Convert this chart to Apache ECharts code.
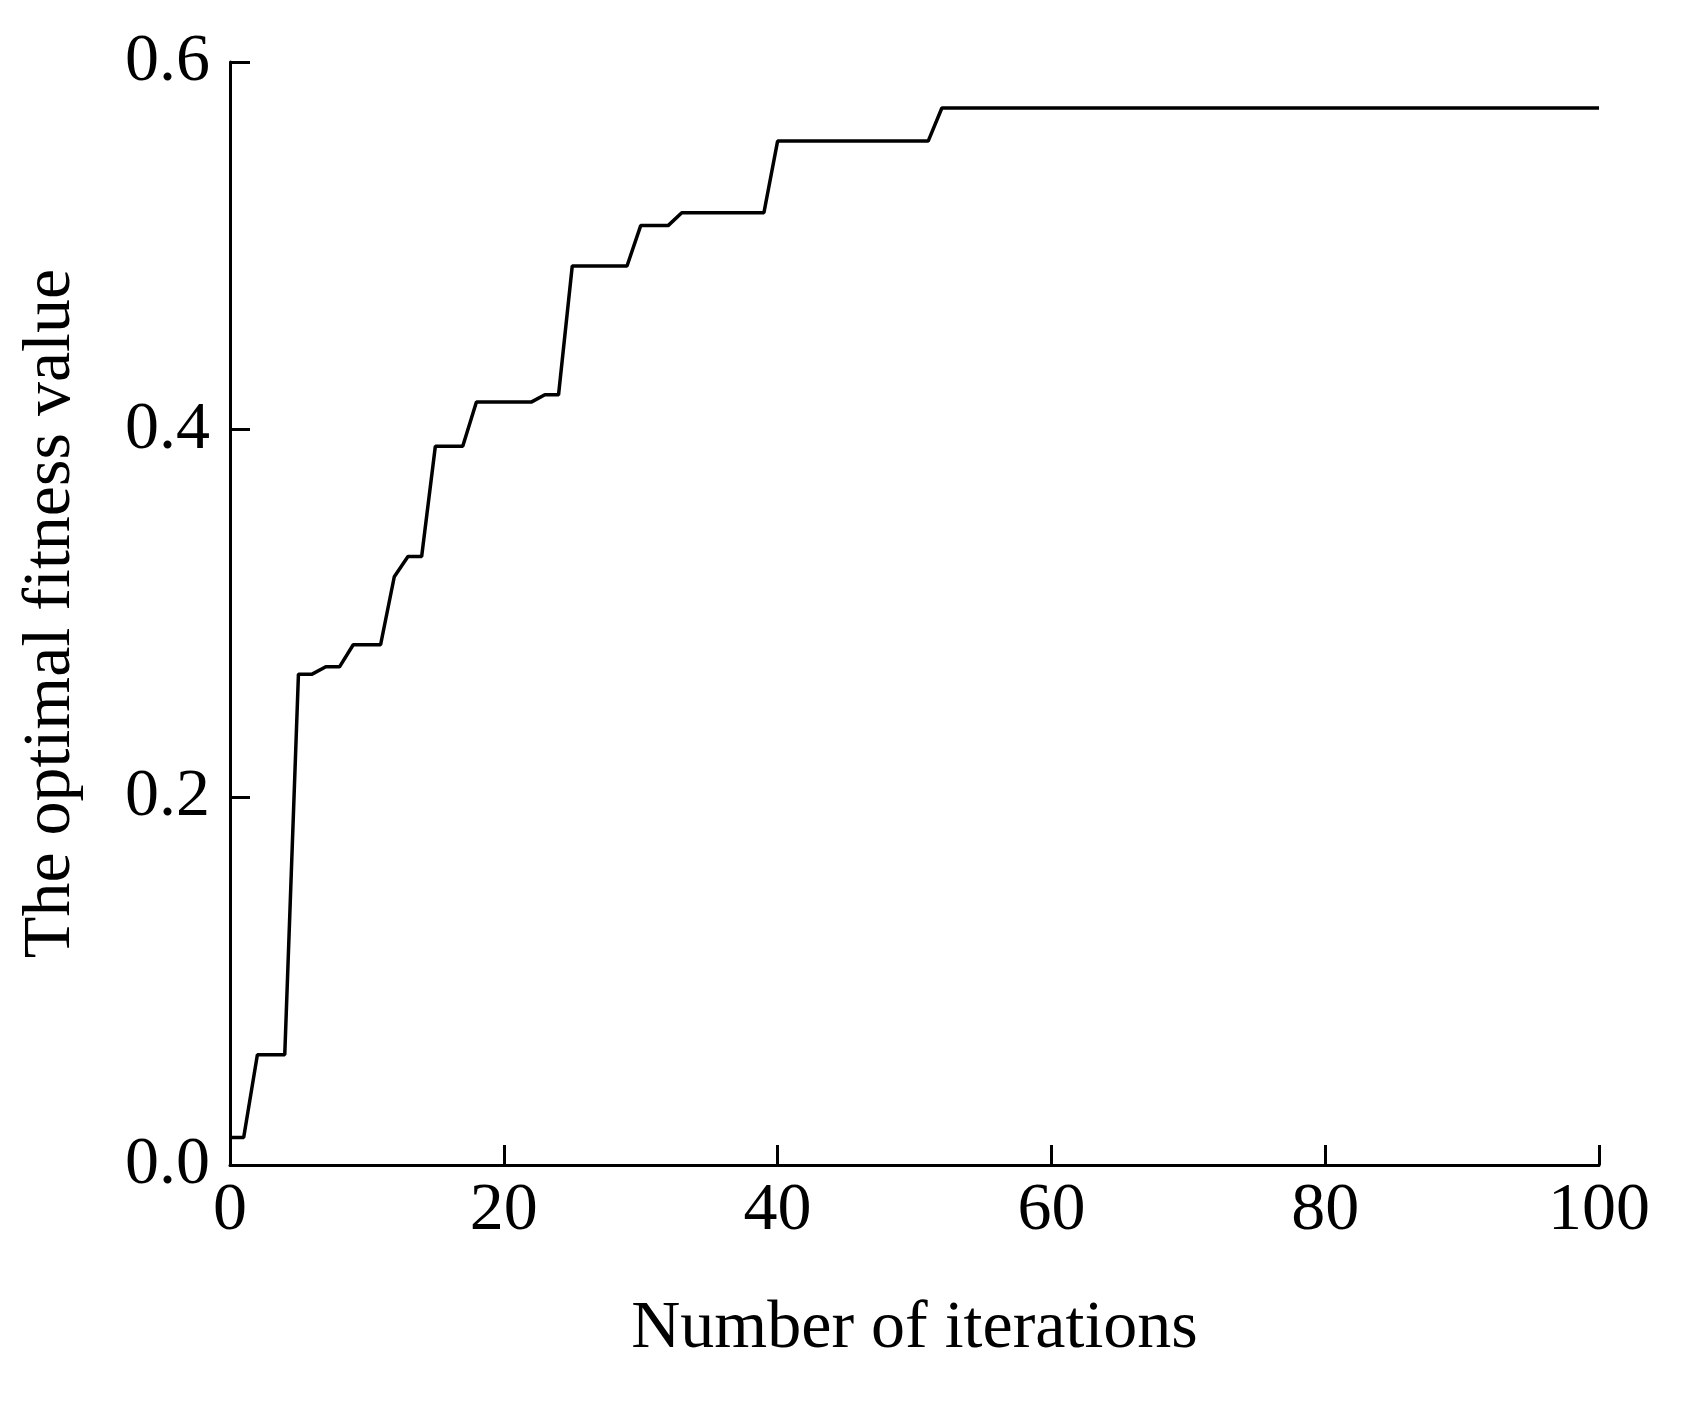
<!DOCTYPE html>
<html><head><meta charset="utf-8">
<script src="https://cdn.jsdelivr.net/npm/echarts@6/dist/echarts.min.js"></script>
<style>html,body{margin:0;background:#fff}#c{width:1691px;height:1406px}</style>
</head><body><div id="c"></div>
<script>
const iterations = Array.from({ length: 101 }, (_, i) => i);
const fitness = [
  0.015, 0.015, 0.060, 0.060, 0.060, 0.267, 0.267, 0.271, 0.271, 0.283,
  0.283, 0.283, 0.320, 0.331, 0.331, 0.391, 0.391, 0.391, 0.415, 0.415,
  0.415, 0.415, 0.415, 0.419, 0.419, 0.489, 0.489, 0.489, 0.489, 0.489,
  0.511, 0.511, 0.511, 0.518, 0.518, 0.518, 0.518, 0.518, 0.518, 0.518,
  0.557, 0.557, 0.557, 0.557, 0.557, 0.557, 0.557, 0.557, 0.557, 0.557,
  0.557, 0.557
];
while (fitness.length < 101) fitness.push(0.575);
fitness[52] = 0.575;

const FONT = "Liberation Serif, Times New Roman, serif";
const chart = echarts.init(document.getElementById("c"));
chart.setOption({
  animation: false,
  grid: { left: 230, right: 92, top: 62, bottom: 241 },
  xAxis: {
    type: "value", min: 0, max: 100, interval: 20,
    name: "Number of iterations", nameLocation: "middle", nameGap: 130,
    nameTextStyle: { fontFamily: FONT, fontSize: 68, color: "#000" },
    axisLine: { lineStyle: { color: "#000", width: 3 } },
    axisTick: { inside: true, length: 20, lineStyle: { color: "#000", width: 3 } },
    axisLabel: { fontFamily: FONT, fontSize: 68, color: "#000", margin: 12 },
    splitLine: { show: false },
  },
  yAxis: {
    type: "value", min: 0, max: 0.6, interval: 0.2,
    name: "The optimal fitness value", nameLocation: "middle", nameGap: 145,
    nameTextStyle: { fontFamily: FONT, fontSize: 68, color: "#000" },
    axisLine: { show: true, lineStyle: { color: "#000", width: 3 } },
    axisTick: { show: true, inside: true, length: 20, lineStyle: { color: "#000", width: 3 } },
    axisLabel: { fontFamily: FONT, fontSize: 68, color: "#000", margin: 20, formatter: (v) => v.toFixed(1) },
    splitLine: { show: false },
  },
  series: [{
    type: "line", data: iterations.map((x, i) => [x, fitness[i]]),
    showSymbol: false, lineStyle: { color: "#000", width: 3.5 },
  }],
});
</script></body></html>
